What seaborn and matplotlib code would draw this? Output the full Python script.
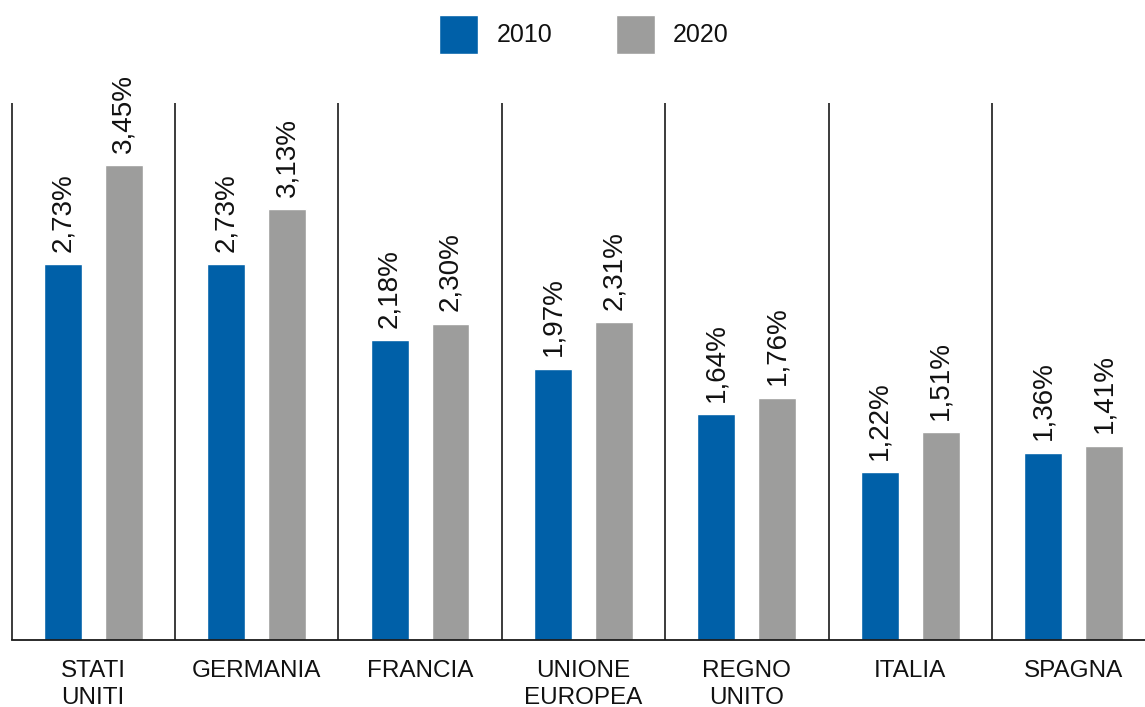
import matplotlib
matplotlib.use("Agg")
import matplotlib.pyplot as plt
import seaborn as sns
import pandas as pd

# Research spending as share of GDP, by country
countries = ["STATI\nUNITI", "GERMANIA", "FRANCIA", "UNIONE\nEUROPEA",
             "REGNO\nUNITO", "ITALIA", "SPAGNA"]
values_2010 = [2.73, 2.73, 2.18, 1.97, 1.64, 1.22, 1.36]
values_2020 = [3.45, 3.13, 2.30, 2.31, 1.76, 1.51, 1.41]
years = ["2010", "2020"]
colors = ["#0060A8", "#9D9D9C"]

df = pd.DataFrame({
    "paese": countries * 2,
    "anno": [years[0]] * len(countries) + [years[1]] * len(countries),
    "valore": values_2010 + values_2020,
})

sns.set_theme(style="white")
plt.rcParams["font.family"] = ["Liberation Sans", "DejaVu Sans"]
text_color = "#111111"

fig = plt.figure(figsize=(11.45, 7.07), dpi=100)
ax = fig.add_axes([11.5 / 1145, 1 - 640 / 707, 1 - 11.5 / 1145, 640 / 707])

sns.barplot(data=df, x="paese", y="valore", hue="anno", order=countries,
            hue_order=years, palette=colors, width=0.746, gap=0.378,
            saturation=1, ax=ax, legend=True)

ax.set_xlim(-0.5, -0.5 + 1133.5 / 163.42)
ax.set_ylim(0, 640 / 137.6)

# value labels above each bar, rotated
for cont, vals in zip(ax.containers, [values_2010, values_2020]):
    labels = [f"{v:.2f}%".replace(".", ",") for v in vals]
    ax.bar_label(cont, labels=labels, padding=9, rotation=90,
                 fontsize=20, color=text_color)

# group separators
for i in range(len(countries)):
    ax.vlines(i - 0.5, 0, 3.9, color="#1a1a1a", linewidth=1.2, clip_on=False)

for side in ["top", "right", "left"]:
    ax.spines[side].set_visible(False)
ax.spines["bottom"].set_color("#1a1a1a")
ax.spines["bottom"].set_linewidth(1.3)

ax.set_xlabel("")
ax.set_ylabel("")
ax.set_yticks([])
ax.tick_params(axis="x", length=0, pad=14.5, labelsize=17.5, labelcolor=text_color)
for lbl in ax.get_xticklabels():
    lbl.set_linespacing(1.27)

handles, labs = ax.get_legend_handles_labels()
ax.get_legend().remove()
fig.legend(handles, labs, loc="center", bbox_to_anchor=(584 / 1145, 1 - 34.5 / 707),
           ncol=2, frameon=False, fontsize=18, handlelength=1.57,
           handleheight=2.0, handletextpad=0.72, columnspacing=2.55,
           labelcolor=text_color, borderpad=0, borderaxespad=0)

fig.savefig("out.png", dpi=100)
